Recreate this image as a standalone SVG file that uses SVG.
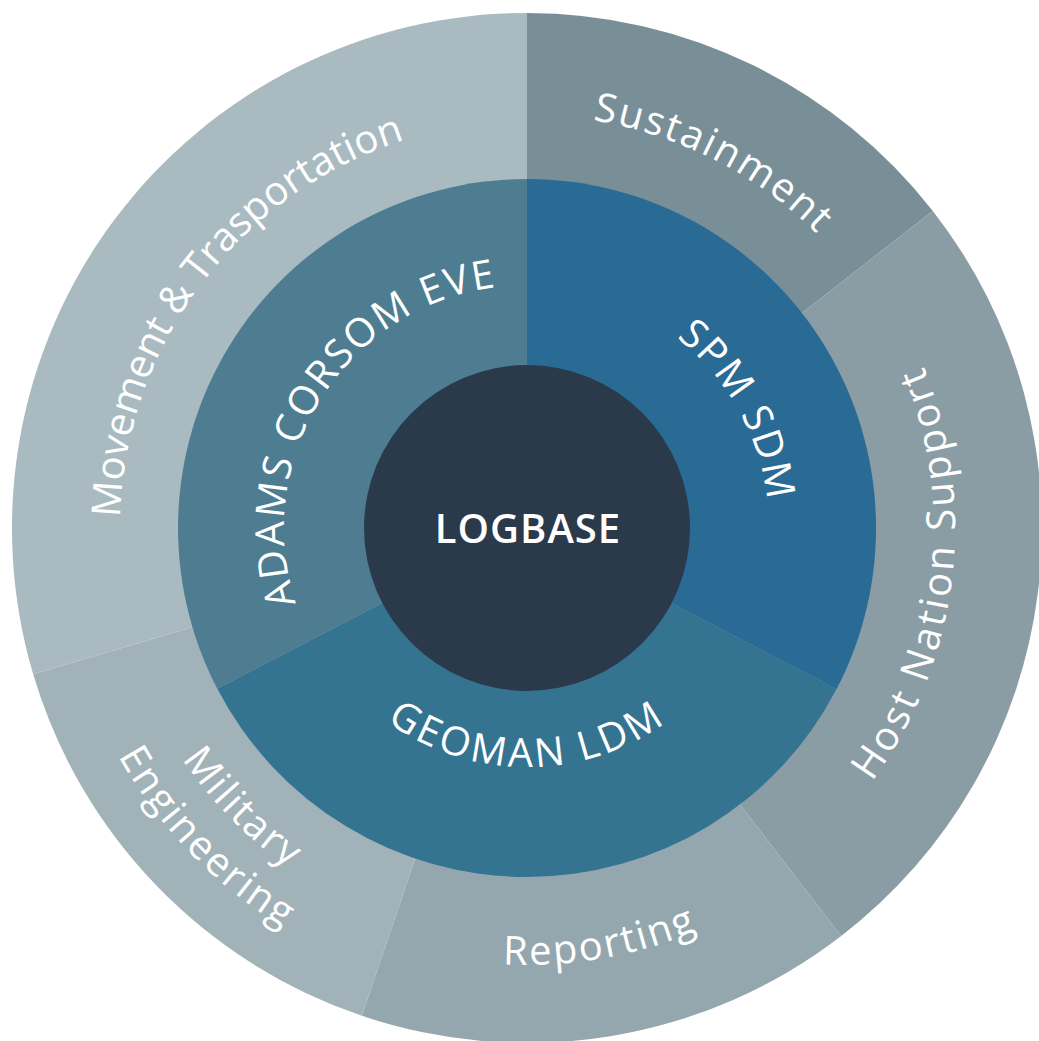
<svg xmlns="http://www.w3.org/2000/svg" width="1039" height="1041" viewBox="0 0 1039 1041">
<style>
.lbl{fill:#ffffff;font-family:"Open Sans","Liberation Sans",sans-serif;font-size:40px;font-weight:400}
.mid{letter-spacing:2px}
</style>
<defs>
<path id="pMove" d="M152.4,687 A407,407 0 0 1 576.6,124.1"/>
<path id="pSust" d="M434.1,125.6 A413,413 0 0 1 907.2,366.6"/>
<path id="pHns" d="M690.8,923.4 A428,428 0 0 0 787.6,188.4"/>
<path id="pRep" d="M246.1,862.7 A437,437 0 0 0 905.4,746.5"/>
<path id="pMil" d="M113.9,488.2 A415,415 0 0 0 559.6,941.7"/>
<path id="pEng" d="M61.6,479.1 A468,468 0 0 0 559.7,994.9"/>
<path id="pAdams" d="M334.2,675.9 A243,243 0 0 1 579.6,290.8"/>
<path id="pSpm" d="M531.2,286 A242,242 0 0 1 734.4,652.6"/>
<path id="pGeo" d="M302.4,609.7 A239,239 0 0 0 751.6,609.7"/>
</defs>
<rect width="1039" height="1041" fill="#ffffff"/>
<g id="outer-sustainment">
<path d="M527,528 L527,13 A515,515 0 0 1 932.8,210.9 Z" fill="#798f98"/>
<text class="lbl"><textPath href="#pSust" startOffset="50%" text-anchor="middle" letter-spacing="2">Sustainment</textPath></text>
</g>
<g id="outer-host-nation-support">
<path d="M527,528 L932.8,210.9 A515,515 0 0 1 841.2,936 Z" fill="#8a9da5"/>
<text class="lbl"><textPath href="#pHns" startOffset="50.5%" text-anchor="middle" letter-spacing="3">Host Nation Support</textPath></text>
</g>
<g id="outer-reporting">
<path d="M527,528 L841.2,936 A515,515 0 0 1 361.9,1015.8 Z" fill="#94a7ae"/>
<text class="lbl"><textPath href="#pRep" startOffset="50%" text-anchor="middle" letter-spacing="2">Reporting</textPath></text>
</g>
<g id="outer-military-engineering">
<path d="M527,528 L361.9,1015.8 A515,515 0 0 1 33.2,674.3 Z" fill="#a1b2b8"/>
<text class="lbl"><textPath href="#pMil" startOffset="50%" text-anchor="middle" letter-spacing="2">Military</textPath></text>
<text class="lbl"><textPath href="#pEng" startOffset="50%" text-anchor="middle" letter-spacing="2">Engineering</textPath></text>
</g>
<g id="outer-movement-transportation">
<path d="M527,528 L33.2,674.3 A515,515 0 0 1 527,13 Z" fill="#aabac1"/>
<text class="lbl"><textPath href="#pMove" startOffset="50%" text-anchor="middle">Movement &amp; Trasportation</textPath></text>
</g>
<g id="mid-spm-sdm">
<path d="M527,528 L527,179 A349,349 0 0 1 836.6,689.1 Z" fill="#2a6b95"/>
<text class="lbl mid"><textPath href="#pSpm" startOffset="50%" text-anchor="middle">SPM SDM</textPath></text>
</g>
<g id="mid-geoman-ldm">
<path d="M527,528 L836.6,689.1 A349,349 0 0 1 217.2,688.6 Z" fill="#357491"/>
<text class="lbl mid"><textPath href="#pGeo" startOffset="50%" text-anchor="middle" letter-spacing="3">GEOMAN LDM</textPath></text>
</g>
<g id="mid-adams-corsom-eve">
<path d="M527,528 L217.2,688.6 A349,349 0 0 1 527,179 Z" fill="#4e7d91"/>
<text class="lbl mid"><textPath href="#pAdams" startOffset="50%" text-anchor="middle">ADAMS CORSOM EVE</textPath></text>
</g>
<g id="center-logbase">
<circle cx="527" cy="528" r="163" fill="#2a3a4b"/>
<text x="528" y="543" text-anchor="middle" fill="#ffffff" font-family="'Open Sans','Liberation Sans',sans-serif" font-size="40" font-weight="600" letter-spacing="1">LOGBASE</text>
</g>
<g id="connectors"></g>
</svg>
